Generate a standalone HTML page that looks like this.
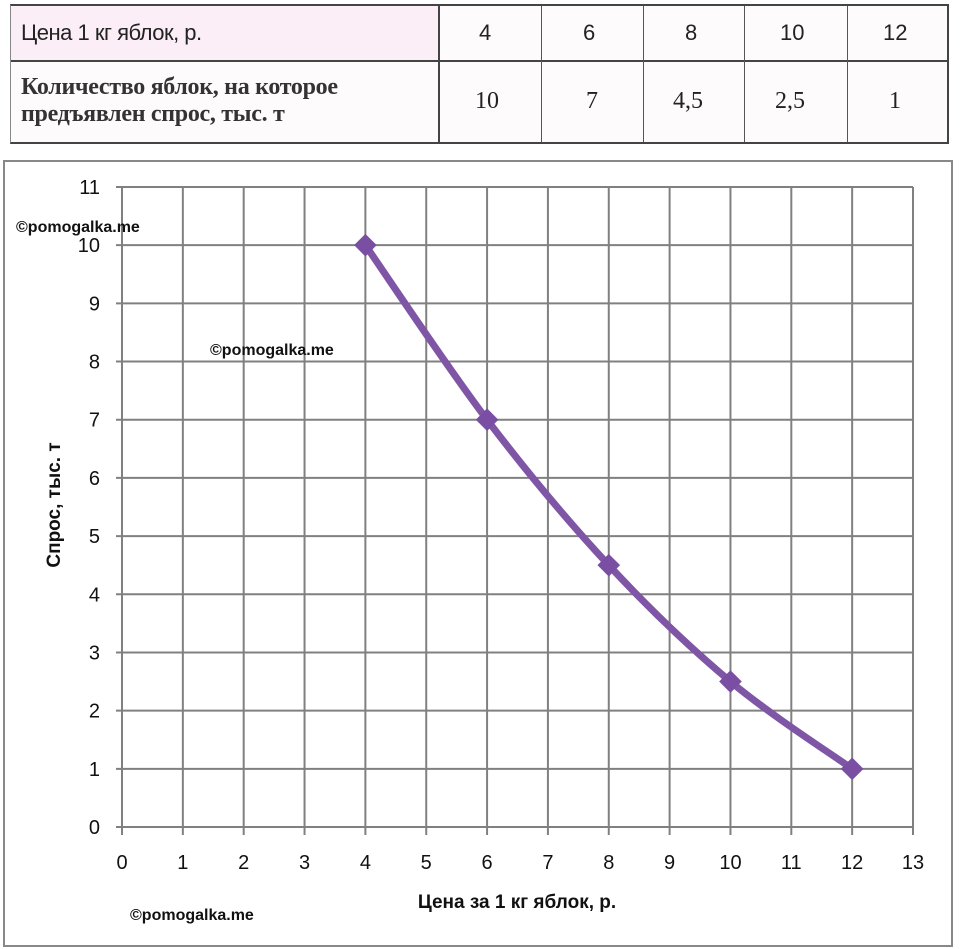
<!DOCTYPE html>
<html><head><meta charset="utf-8"><style>
body{margin:0;width:960px;height:949px;background:#fff;overflow:hidden;position:relative;font-family:"Liberation Sans",sans-serif}
.t{position:absolute;left:10px;top:4px;width:936px;height:136px;border:2px solid #444;border-left:1px solid #888;background:#fdfbfc}
.c{position:absolute;font-family:"Liberation Serif",serif;color:#222}
</style></head><body>
<div class="t">
 <div style="position:absolute;left:0;top:0;width:428px;height:54px;background:#fbeef6"></div>
 <div style="position:absolute;left:0;top:54px;width:100%;border-top:2px solid #444"></div>
 <div style="position:absolute;left:427px;top:0;height:100%;border-left:2px solid #444"></div>
 <div style="position:absolute;left:530px;top:0;height:100%;border-left:1px solid #555"></div>
 <div style="position:absolute;left:632px;top:0;height:100%;border-left:1px solid #555"></div>
 <div style="position:absolute;left:733px;top:0;height:100%;border-left:1px solid #555"></div>
 <div style="position:absolute;left:836px;top:0;height:100%;border-left:1px solid #555"></div>
 <div class="c" style="left:10px;top:14px;font-family:'Liberation Sans',sans-serif;font-size:22px;letter-spacing:-0.5px">Цена 1 кг яблок, р.</div>
 <div class="c" style="left:10px;top:68px;font-size:24px;line-height:27px;font-weight:bold;letter-spacing:-0.3px;color:#333">Количество яблок, на которое<br>предъявлен спрос, тыс. т</div>
 <div class="c" style="left:468px;top:14px;font-family:'Liberation Sans',sans-serif;font-size:22px">4</div>
 <div class="c" style="left:572px;top:14px;font-family:'Liberation Sans',sans-serif;font-size:22px">6</div>
 <div class="c" style="left:674px;top:14px;font-family:'Liberation Sans',sans-serif;font-size:22px">8</div>
 <div class="c" style="left:769px;top:14px;font-family:'Liberation Sans',sans-serif;font-size:22px">10</div>
 <div class="c" style="left:872px;top:14px;font-family:'Liberation Sans',sans-serif;font-size:22px">12</div>
 <div class="c" style="left:464px;top:82px;font-size:24px">10</div>
 <div class="c" style="left:575px;top:82px;font-size:24px">7</div>
 <div class="c" style="left:662px;top:82px;font-size:24px">4,5</div>
 <div class="c" style="left:764px;top:82px;font-size:24px">2,5</div>
 <div class="c" style="left:878px;top:82px;font-size:24px">1</div>
</div>
<svg id="ch" width="960" height="949" style="position:absolute;left:0;top:0">
<rect x="4" y="161" width="948" height="785" fill="none" stroke="#888" stroke-width="2"/>
</svg>
<script>
const xTicks=[0,1,2,3,4,5,6,7,8,9,10,11,12,13];
const yTicks=[0,1,2,3,4,5,6,7,8,9,10,11];
const prices=[4,6,8,10,12];
const demand=[10,7,4.5,2.5,1];
const X=v=>122+v*(913-122)/13, Y=v=>827-v*(827-187)/11;
const svg=document.getElementById('ch'),NS='http://www.w3.org/2000/svg';
function mk(t,a,p){const e=document.createElementNS(NS,t);for(const k in a)e.setAttribute(k,a[k]);(p||svg).appendChild(e);return e;}
const g=mk('g',{});


xTicks.forEach(v=>{mk('line',{x1:X(v),x2:X(v),y1:Y(11),y2:Y(0)+8,stroke:'#808080','stroke-width':2},g);
 const t=mk('text',{x:X(v),y:869,'text-anchor':'middle','font-size':20,fill:'#111'});t.textContent=v;
 
 });
yTicks.forEach(v=>{mk('line',{x1:X(0)-6,x2:X(13),y1:Y(v),y2:Y(v),stroke:'#808080','stroke-width':2},g);
 const t=mk('text',{x:100,y:Y(v)+7,'text-anchor':'end','font-size':20,fill:'#111'});t.textContent=v;
 
 });
const P=prices.map((p,i)=>[X(p),Y(demand[i])]);
let d='M'+P[0];
for(let i=0;i<P.length-1;i++){const p0=P[i-1]||P[i],p1=P[i],p2=P[i+1],p3=P[i+2]||p2;
 d+=` C${p1[0]+(p2[0]-p0[0])/6},${p1[1]+(p2[1]-p0[1])/6} ${p2[0]-(p3[0]-p1[0])/6},${p2[1]-(p3[1]-p1[1])/6} ${p2[0]},${p2[1]}`;}
const line=mk('path',{d,fill:'none',stroke:'#7f56a6','stroke-width':7,'stroke-linejoin':'round'});


P.forEach(p=>{const m=mk('rect',{x:p[0]-8,y:p[1]-8,width:16,height:16,fill:'#7a4fa3',transform:`rotate(45 ${p[0]} ${p[1]})`});
 
 });
const xt=mk('text',{x:517,y:908,'text-anchor':'middle','font-size':19,'font-weight':'bold',fill:'#111'});xt.textContent='Цена за 1 кг яблок, р.';


const yt=mk('text',{x:0,y:0,'text-anchor':'middle','font-size':19,'font-weight':'bold',fill:'#111',transform:'translate(60,505) rotate(-90)'});yt.textContent='Спрос, тыс. т';


[[16,232],[210,355],[130,920]].forEach(w=>{const t=mk('text',{x:w[0],y:w[1],'font-size':16,'font-weight':'bold',fill:'#111'});t.textContent='©pomogalka.me';
 
 });
</script>
</body></html>
